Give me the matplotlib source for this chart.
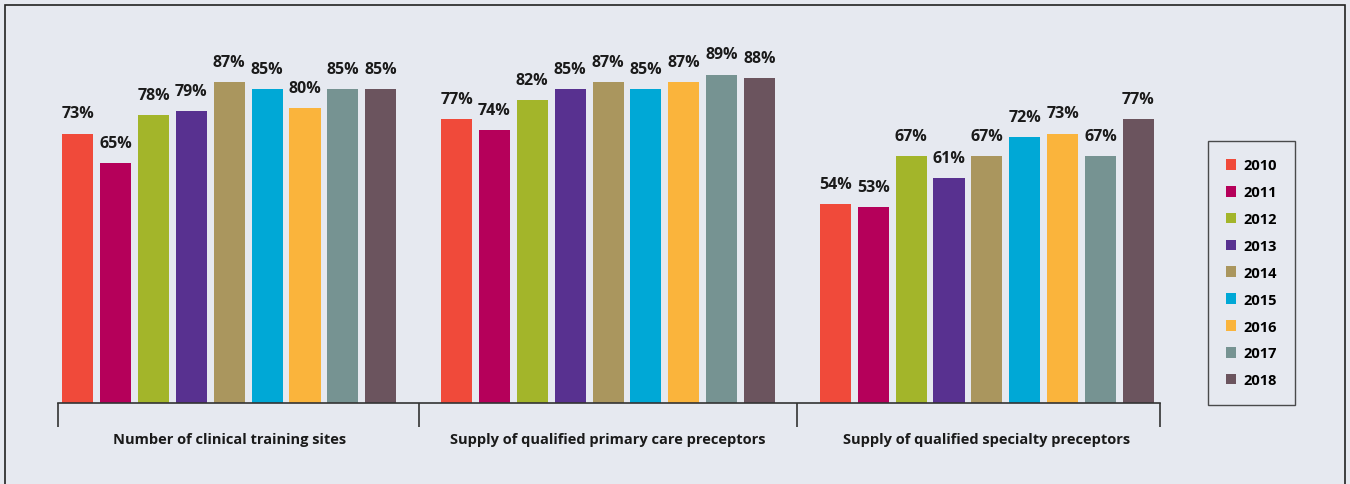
import numpy as np
import matplotlib.pyplot as plt
from matplotlib.patches import Rectangle

plt.rcParams["font.family"] = ["Open Sans", "DejaVu Sans"]

categories = ["Number of clinical training sites",
              "Supply of qualified primary care preceptors",
              "Supply of qualified specialty preceptors"]
years = ["2010", "2011", "2012", "2013", "2014", "2015", "2016", "2017", "2018"]
colors = ["#F04A3A", "#B5005A", "#A3B52A", "#583190", "#AA965E",
          "#00A8D6", "#FAB43C", "#769392", "#6B545E"]

sites = [73, 65, 78, 79, 87, 85, 80, 85, 85]
primary = [77, 74, 82, 85, 87, 85, 87, 89, 88]
specialty = [54, 53, 67, 61, 67, 72, 73, 67, 77]

values = np.array([sites, primary, specialty])  # groups x years

bg = "#E6E9F0"
fig = plt.figure(figsize=(13.5, 4.85), dpi=100, facecolor=bg)
fig.patches.append(Rectangle((5 / 1350, -0.01), 1340 / 1350, 1 - 6 / 485 + 0.01,
                             transform=fig.transFigure, fill=False,
                             edgecolor="#222222", linewidth=1.2))

ax = fig.add_axes([58 / 1350, 81 / 485, (1160 - 58) / 1350, 369 / 485])
ax.set_facecolor(bg)

x = np.arange(len(categories))
step = 0.1
width = 0.082
for i, (year, col) in enumerate(zip(years, colors)):
    pos = x + (i - 4) * step
    bars = ax.bar(pos, values[:, i], width=width, color=col, label=year)
    for b, v in zip(bars, values[:, i]):
        ax.text(b.get_x() + b.get_width() / 2, v + 3.3, f"{v}%",
                ha="center", va="bottom", fontsize=11.5, fontweight="bold",
                color="#1a1a1a")

ax.set_xlim(-0.452, 2.457)
ax.set_ylim(0, 100)
for s in ["top", "right", "left"]:
    ax.spines[s].set_visible(False)
ax.spines["bottom"].set_color("#333333")
ax.spines["bottom"].set_linewidth(1.2)
ax.set_yticks([])

ax.set_xticks(x)
ax.set_xticklabels(categories, fontsize=10.5, fontweight="bold", color="#1a1a1a")
ax.tick_params(axis="x", which="major", length=0, pad=21)
ax.set_xticks([-0.452, 0.5, 1.5, 2.457], minor=True)
ax.tick_params(axis="x", which="minor", length=17, width=1.2, color="#333333",
               direction="out")

leg = ax.legend(loc="upper left", bbox_to_anchor=(1208 / 1350, 343 / 485),
                bbox_transform=fig.transFigure, frameon=True, fancybox=False,
                edgecolor="#222222", facecolor=bg, handlelength=0.75,
                handleheight=0.75, handletextpad=0.5, labelspacing=0.88,
                borderpad=1.2, borderaxespad=0,
                prop={"weight": "bold", "size": 10.5})
leg.get_frame().set_linewidth(1.0)

fig.savefig("out.png", dpi=100, facecolor=bg)
